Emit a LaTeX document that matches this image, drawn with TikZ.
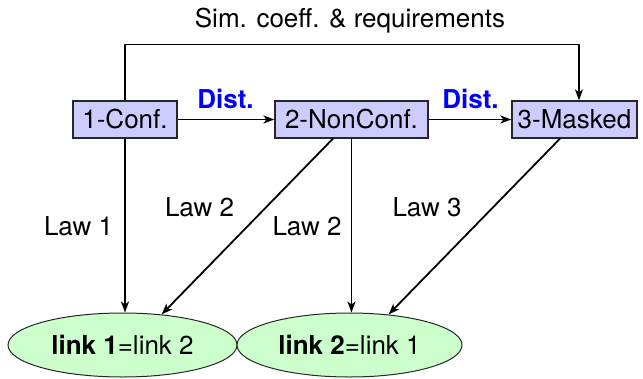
\documentclass[tikz,border=0pt]{standalone}
\usepackage{fontspec}
\setmainfont{TeX Gyre Heros}
\usetikzlibrary{arrows.meta,calc,shapes.geometric}
\definecolor{boxfill}{RGB}{204,204,255}
\definecolor{ellfill}{RGB}{204,255,204}
\definecolor{distblue}{RGB}{0,0,255}
\begin{document}
\begin{tikzpicture}[x=1pt,y=-1pt,
  every node/.style={font=\fontsize{26}{30}\selectfont},
  box/.style={draw=black!85, fill=boxfill, line width=1.2pt, minimum height=37pt, inner xsep=0pt, text height=18.7pt, text depth=0pt},
  ell/.style={ellipse, draw=black!85, fill=ellfill, line width=1pt, inner sep=0pt, text height=18.7pt, text depth=0pt},
  conn/.style={line width=1.8pt, -{Stealth[length=11pt,width=8pt,inset=3pt]}},
  lbl/.style={anchor=base, inner sep=0pt},
  dist/.style={lbl, text=distblue, font=\fontsize{26}{30}\selectfont\bfseries}]
\useasboundingbox (0,0) rectangle (643,378);
\node[box, minimum width=104pt] (c1) at (125,119.5) {1-Conf.};
\node[box, minimum width=153pt] (n2) at (351.5,119.5) {2-NonConf.};
\node[box, minimum width=125pt] (m3) at (574.5,119.5) {3-Masked};
\node[ell, minimum width=229pt, minimum height=64pt] (l1) at (122.5,345) {\textbf{link 1}=link 2};
\node[ell, minimum width=225pt, minimum height=64pt] (l2) at (349.5,345) {\textbf{link 2}=link 1};
\draw[conn] (c1) -- (n2);
\draw[conn] (n2) -- (m3);
\coordinate (tl) at ($(c1.north)+(0,-56)$);
\coordinate (tr) at ($(m3.north)+(4.5,0)$);
\draw[conn] (c1.north) -- (tl) -| (tr);
\node[lbl] (sim) at (350,27) {Sim. coeff. \& requirements};
\draw[conn] (c1.south) -- (c1.south |- l1.north);
\draw[conn] ($(n2.south)+(-18.5,0)$) -- (l1.38);
\draw[conn] (n2.south) -- (n2.south |- l2.north);
\draw[conn] ($(m3.south)+(-14.5,0)$) -- (l2.38);
\node[lbl] (law1) at (78.5,235) {Law 1};
\node[lbl] (law2a) at (199.5,216.5) {Law 2};
\node[lbl] (law2b) at (307,235) {Law 2};
\node[lbl] (law3) at (427,216.5) {Law 3};
\node[dist] (d1) at (225.5,108) {Dist.};
\node[dist] (d2) at (470.5,108) {Dist.};
\end{tikzpicture}
\end{document}
